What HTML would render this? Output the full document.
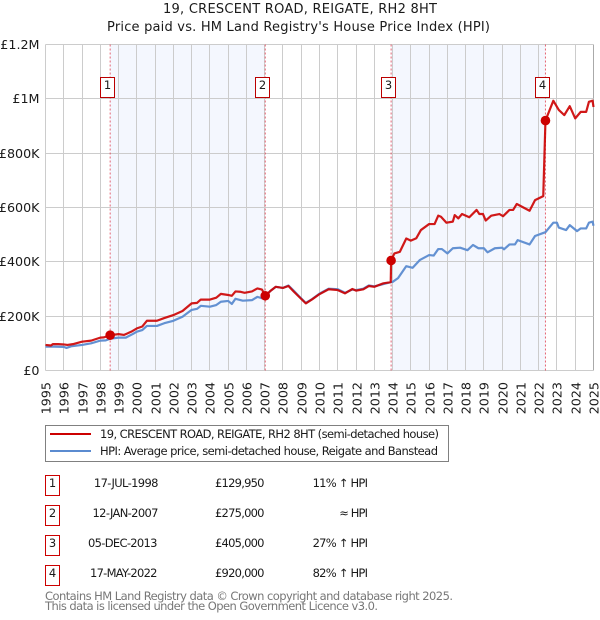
<!DOCTYPE html>
<html>
<head>
<meta charset="utf-8">
<title>19, Crescent Road price chart</title>
<style>
html,body{margin:0;padding:0;background:#fff;}
svg{display:block;font-family:"DejaVu Sans","Liberation Sans",sans-serif;}
</style>
</head>
<body>
<svg id="chart" width="600" height="620" viewBox="0 0 600 620" xmlns="http://www.w3.org/2000/svg">
  <rect x="0" y="0" width="600" height="620" fill="#fff"/>
  <text x="300" y="13" font-size="13" text-anchor="middle" textLength="274" lengthAdjust="spacing" fill="#1a1a1a">19, CRESCENT ROAD, REIGATE, RH2 8HT</text>
  <text x="298.5" y="31" font-size="13" text-anchor="middle" textLength="383" lengthAdjust="spacing" fill="#1a1a1a">Price paid vs. HM Land Registry's House Price Index (HPI)</text>
  <g id="shade"></g>
  <g id="grid"></g>
  <g id="xlabels"></g>
  <g id="ylabels"></g>
  <g id="saleLines"></g>
  <path id="hpiLine" fill="none" stroke="#5b8bd0" stroke-width="2.2" stroke-linejoin="round" stroke-opacity="0.95"/>
  <path id="priceLine" fill="none" stroke="#cc0000" stroke-width="2.2" stroke-linejoin="round" stroke-opacity="0.9"/>
  <g id="saleDots"></g>
  <g id="saleBoxes"></g>

  <g>
    <rect x="45.5" y="425.5" width="403" height="36" fill="#fff" stroke="#808080" stroke-width="1"/>
    <line x1="50" x2="91" y1="434" y2="434" stroke="#cc0000" stroke-width="2"/>
    <text x="100" y="438" font-size="11.5" textLength="339" lengthAdjust="spacing" fill="#1a1a1a">19, CRESCENT ROAD, REIGATE, RH2 8HT (semi-detached house)</text>
    <line x1="50" x2="91" y1="451" y2="451" stroke="#5b8bd0" stroke-width="2"/>
    <text x="100" y="455" font-size="11.5" textLength="338" lengthAdjust="spacing" fill="#1a1a1a">HPI: Average price, semi-detached house, Reigate and Banstead</text>
  </g>

  <g font-size="11.5" fill="#1a1a1a">
    <g>
      <rect x="45.5" y="475.5" width="14" height="20" fill="#fff" stroke="#cc0000"/>
      <text x="52.5" y="487" text-anchor="middle">1</text>
      <text x="158.5" y="487" text-anchor="end" textLength="64.6" lengthAdjust="spacing">17-JUL-1998</text>
      <text x="264.5" y="487" text-anchor="end" textLength="49.5" lengthAdjust="spacing">£129,950</text>
      <text x="368" y="487" text-anchor="end" textLength="55.4" lengthAdjust="spacing">11% ↑ HPI</text>
    </g>
    <g>
      <rect x="45.5" y="505.5" width="14" height="20" fill="#fff" stroke="#cc0000"/>
      <text x="52.5" y="517" text-anchor="middle">2</text>
      <text x="158.5" y="517" text-anchor="end" textLength="66" lengthAdjust="spacing">12-JAN-2007</text>
      <text x="264.5" y="517" text-anchor="end" textLength="49.5" lengthAdjust="spacing">£275,000</text>
      <text x="368" y="517" text-anchor="end" textLength="28.7" lengthAdjust="spacing">≈ HPI</text>
    </g>
    <g>
      <rect x="45.5" y="535.5" width="14" height="20" fill="#fff" stroke="#cc0000"/>
      <text x="52.5" y="547" text-anchor="middle">3</text>
      <text x="157.5" y="547" text-anchor="end" textLength="69.5" lengthAdjust="spacing">05-DEC-2013</text>
      <text x="264.5" y="547" text-anchor="end" textLength="49.5" lengthAdjust="spacing">£405,000</text>
      <text x="368" y="547" text-anchor="end" textLength="55.4" lengthAdjust="spacing">27% ↑ HPI</text>
    </g>
    <g>
      <rect x="45.5" y="565.5" width="14" height="20" fill="#fff" stroke="#cc0000"/>
      <text x="52.5" y="577" text-anchor="middle">4</text>
      <text x="157.5" y="577" text-anchor="end" textLength="67.5" lengthAdjust="spacing">17-MAY-2022</text>
      <text x="264.5" y="577" text-anchor="end" textLength="49.5" lengthAdjust="spacing">£920,000</text>
      <text x="368" y="577" text-anchor="end" textLength="55.4" lengthAdjust="spacing">82% ↑ HPI</text>
    </g>
  </g>
  <text x="45" y="600" font-size="11.5" textLength="408" lengthAdjust="spacing" fill="#777">Contains HM Land Registry data © Crown copyright and database right 2025.</text>
  <text x="45" y="610" font-size="11.5" textLength="333" lengthAdjust="spacing" fill="#777">This data is licensed under the Open Government Licence v3.0.</text>
</svg>
<script>
var yearTicks = [1995,1996,1997,1998,1999,2000,2001,2002,2003,2004,2005,2006,2007,2008,2009,2010,2011,2012,2013,2014,2015,2016,2017,2018,2019,2020,2021,2022,2023,2024,2025];
var valueTicks = [0,200,400,600,800,1000,1200];
var valueTickLabels = ['£0','£200K','£400K','£600K','£800K','£1M','£1.2M'];
var saleDates = [1998.54,2007.03,2013.92,2022.37];
var salePrices = [129.95,275,405,920];
var saleLabels = ['1','2','3','4'];
var priceDates = [1995,1995.3,1995.4,1995.7,1996,1996.2,1996.5,1997,1997.5,1998,1998.2,1998.54,1999,1999.3,1999.7,2000,2000.3,2000.55,2001.1,2001.5,2002,2002.5,2003,2003.3,2003.5,2004,2004.35,2004.6,2005,2005.2,2005.4,2005.65,2005.9,2006.3,2006.6,2006.85,2007.03,2007.3,2007.6,2008,2008.3,2008.6,2008.9,2009.25,2009.6,2010,2010.5,2011,2011.4,2011.8,2012,2012.4,2012.7,2013,2013.5,2013.9,2013.92,2014.1,2014.4,2014.75,2015,2015.3,2015.55,2016,2016.3,2016.5,2016.65,2016.95,2017.3,2017.4,2017.6,2017.8,2018.2,2018.6,2018.75,2018.95,2019.1,2019.4,2019.85,2020.05,2020.4,2020.6,2020.8,2021.5,2021.8,2022.25,2022.37,2022.8,2023.1,2023.4,2023.7,2024,2024.3,2024.6,2024.75,2024.95,2025];
var priceValues = [94,92,97,97,96,94,97,106,110,121,122,129.95,134,131,143,155,162,183,183,193,204,219,247,249,261,261,268,282,278,275,291,290,286,291,302,298,275,292,308,304,311,290,270,247,262,281,299,296,284,300,294,299,311,308,321,325,405,431,437,486,478,487,517,539,539,570,566,544,548,572,560,576,564,591,576,576,552,570,576,568,591,591,613,588,627,642,920,993,959,940,973,928,952,952,989,993,970];
var hpiDates = [1995,1995.5,1996,1996.15,1996.4,1997,1997.5,1998,1998.3,1998.54,1999,1999.4,1999.8,2000,2000.3,2000.55,2001.1,2001.5,2002,2002.5,2003,2003.3,2003.5,2004,2004.35,2004.6,2005,2005.2,2005.4,2005.8,2006.3,2006.6,2006.85,2007.03,2007.3,2007.6,2008,2008.3,2008.6,2008.9,2009.25,2009.6,2010,2010.5,2011,2011.4,2011.8,2012,2012.4,2012.7,2013,2013.5,2013.9,2014,2014.3,2014.75,2015.1,2015.5,2016,2016.25,2016.5,2016.7,2017,2017.3,2017.7,2018.1,2018.4,2018.7,2019,2019.2,2019.6,2020,2020.1,2020.4,2020.7,2020.85,2021.5,2021.8,2022.2,2022.37,2022.8,2023,2023.1,2023.5,2023.7,2024.1,2024.3,2024.6,2024.75,2024.95,2025];
var hpiValues = [88,88,87,83,89,94,100,110,111,117,121,121,135,143,149,164,164,174,183,198,223,227,238,235,241,253,256,245,264,257,259,271,266,272,292,308,304,313,293,272,249,263,283,301,299,286,298,296,301,313,310,318,325,326,340,384,378,407,425,423,447,447,431,450,452,443,462,450,450,435,450,452,446,464,464,480,464,495,505,509,544,544,526,517,535,513,523,523,544,548,533];

var svgNS = 'http://www.w3.org/2000/svg';
var plotLeft = 45.5, plotRight = 593.5, plotTop = 44.5, plotBottom = 370.5;
function xAt(year) { return plotLeft + (year - 1995) * (plotRight - plotLeft) / 30; }
function yAt(value) { return plotBottom - value * (plotBottom - plotTop) / 1200; }
function make(tag, parentId) {
  var el = document.createElementNS(svgNS, tag);
  document.getElementById(parentId).appendChild(el);
  return el;
}
function pathFrom(xs, ys) {
  var d = '';
  for (var i = 0; i < xs.length; i++) {
    d += (i ? 'L' : 'M') + xAt(xs[i]).toFixed(2) + ' ' + yAt(ys[i]).toFixed(2);
  }
  return d;
}

for (var s = 0; s + 1 < saleDates.length; s += 2) {
  var band = make('rect', 'shade');
  
  
  band.setAttribute('x', xAt(saleDates[s]));
  band.setAttribute('y', plotTop);
  band.setAttribute('width', xAt(saleDates[s + 1]) - xAt(saleDates[s]));
  band.setAttribute('height', plotBottom - plotTop);
  band.setAttribute('fill', '#f4f7fe');
}

yearTicks.forEach(function (year) {
  var px = Math.floor(xAt(year)) + 0.5;
  var v = make('line', 'grid');
  
  
  v.setAttribute('x1', px);
  v.setAttribute('x2', px);
  v.setAttribute('y1', plotTop);
  v.setAttribute('y2', plotBottom);
  v.setAttribute('stroke', year === 2025 ? '#aaaaaa' : '#cccccc');
  var t = make('text', 'xlabels');
  
  
  t.setAttribute('font-size', '12.7');
  t.setAttribute('fill', '#1a1a1a');
  t.setAttribute('text-anchor', 'end');
  t.setAttribute('transform', 'translate(' + (px + 5) + ',382) rotate(-90)');
  t.textContent = year;
});

valueTicks.forEach(function (value, i) {
  var py = Math.round(yAt(value) - 0.5) + 0.5;
  var h = make('line', 'grid');
  
  
  h.setAttribute('x1', plotLeft);
  h.setAttribute('x2', plotRight);
  h.setAttribute('y1', py);
  h.setAttribute('y2', py);
  h.setAttribute('stroke', '#cccccc');
  var t = make('text', 'ylabels');
  
  
  t.setAttribute('font-size', '12.7');
  t.setAttribute('fill', '#1a1a1a');
  t.setAttribute('text-anchor', 'end');
  t.setAttribute('x', 39.5);
  t.setAttribute('y', py + 4.5);
  t.textContent = valueTickLabels[i];
});

document.getElementById('hpiLine').setAttribute('d', pathFrom(hpiDates, hpiValues));
document.getElementById('priceLine').setAttribute('d', pathFrom(priceDates, priceValues));

saleDates.forEach(function (date, i) {
  var px = xAt(date);
  var dash = make('line', 'saleLines');
  
  
  dash.setAttribute('x1', px);
  dash.setAttribute('x2', px);
  dash.setAttribute('y1', plotTop);
  dash.setAttribute('y2', plotBottom);
  dash.setAttribute('stroke', '#dd3344');
  dash.setAttribute('stroke-opacity', '0.75');
  dash.setAttribute('stroke-dasharray', '2 2');

  var dot = make('circle', 'saleDots');
  
  
  dot.setAttribute('cx', px);
  dot.setAttribute('cy', yAt(salePrices[i]));
  dot.setAttribute('r', 4.8);
  dot.setAttribute('fill', '#cc0000');

  var box = make('rect', 'saleBoxes');
  
  
  box.setAttribute('x', Math.round(px - 10.5) + 0.5);
  box.setAttribute('y', 77.5);
  box.setAttribute('width', 14);
  box.setAttribute('height', 20);
  box.setAttribute('fill', '#fff');
  box.setAttribute('stroke', '#bb0000');

  var label = make('text', 'saleBoxes');
  
  
  label.setAttribute('font-size', '11.5');
  label.setAttribute('fill', '#1a1a1a');
  label.setAttribute('text-anchor', 'middle');
  label.setAttribute('x', Math.round(px - 10.5) + 7.5);
  label.setAttribute('y', 89);
  label.textContent = saleLabels[i];
});
</script>
</body>
</html>
